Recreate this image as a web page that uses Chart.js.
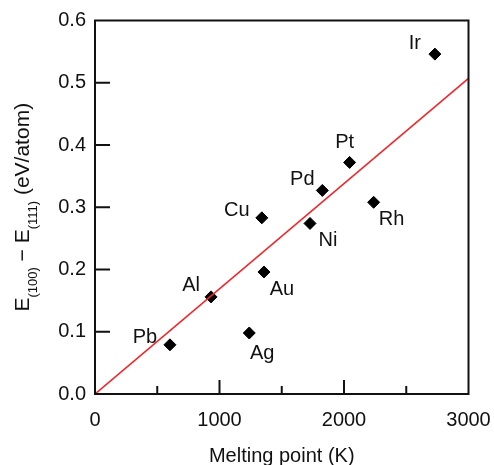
<!DOCTYPE html>
<html lang="en">
<head>
    <meta charset="UTF-8">
    <title>Surface energy vs melting point</title>
    <script src="https://cdn.jsdelivr.net/npm/chart.js@4.4.1/dist/chart.umd.min.js"></script>
    <style>
        html, body { margin: 0; padding: 0; background: #fff; }
        #wrap { width: 494px; height: 465px; }
    </style>
</head>
<body>
<div id="wrap"><canvas id="chart"></canvas></div>
<script>
    // 원소 이름과 값
    var metals = ['Ir', 'Pt', 'Pd', 'Rh', 'Cu', 'Ni', 'Au', 'Ag', 'Al', 'Pb'];
    var meltingPoints = [2730, 2045, 1826, 2238, 1340, 1727, 1357, 1239, 932, 602];
    var energyDiffs = [0.546, 0.372, 0.327, 0.308, 0.283, 0.274, 0.196, 0.098, 0.156, 0.079];

    // 라벨 위치 (점 기준)
    var labelSide = ['nw', 'n', 'nw', 'se', 'w', 'se', 'se', 's', 'nw', 'w'];

    // 빨간 직선 (원점 통과)
    var fitX = [0, 3000];
    var fitY = [0, 0.507];

    var xTicks = [0, 1000, 2000, 3000];
    var xMinorTicks = [500, 1500, 2500];
    var yTicks = [0, 0.1, 0.2, 0.3, 0.4, 0.5, 0.6];

    var FONT = '"Liberation Sans", Arial, Helvetica, sans-serif';
    var INK = '#111';

    var offsets = {
        nw: [-20, -11], n: [-5, -20], se: [18, 17], w: [-25, -7], s: [13, 20]
    };

    var points = meltingPoints.map(function(x, i) {
        return { x: x, y: energyDiffs[i] };
    });
    var fitLine = fitX.map(function(x, i) {
        return { x: x, y: fitY[i] };
    });

    // 프레임, 안쪽 눈금, 축 제목, 라벨
    var decorPlugin = {
        id: 'decor',
        afterDatasetsDraw: function(chart) {
            var ctx = chart.ctx;
            var a = chart.chartArea;
            var xs = chart.scales.x;
            var ys = chart.scales.y;
            ctx.save();

            ctx.strokeStyle = INK;
            ctx.lineWidth = 2;
            ctx.beginPath();
            xTicks.forEach(function(v) {
                if (v === 0 || v === 3000) return;
                var px = xs.getPixelForValue(v);
                ctx.moveTo(px, a.bottom);
                ctx.lineTo(px, a.bottom - 14);
            });
            xMinorTicks.forEach(function(v) {
                var px = xs.getPixelForValue(v);
                ctx.moveTo(px, a.bottom);
                ctx.lineTo(px, a.bottom - 8);
            });
            yTicks.forEach(function(v) {
                if (v === 0 || v === 0.6) return;
                var py = ys.getPixelForValue(v);
                ctx.moveTo(a.left, py);
                ctx.lineTo(a.left + 15, py);
            });
            ctx.stroke();
            ctx.strokeRect(a.left, a.top, a.right - a.left, a.bottom - a.top);

            // 점 라벨
            var meta = chart.getDatasetMeta(1);
            ctx.fillStyle = INK;
            ctx.font = '20px ' + FONT;
            ctx.textAlign = 'center';
            ctx.textBaseline = 'middle';
            meta.data.forEach(function(el, i) {
                var off = offsets[labelSide[i]];
                ctx.fillText(metals[i], el.x + off[0], el.y + off[1]);
            });

            // x 축 제목
            ctx.textBaseline = 'alphabetic';
            ctx.fillText('Melting point (K)', (a.left + a.right) / 2, 462);

            // y 축 제목 (아래첨자 포함)
            var parts = [
                ['E', false], ['(100)', true], [' \u2212 E', false], ['(111)', true], [' (eV/atom)', false]
            ];
            var mainFont = '21px ' + FONT;
            var subFont = '13px ' + FONT;
            var total = 0;
            parts.forEach(function(p) {
                ctx.font = p[1] ? subFont : mainFont;
                total += ctx.measureText(p[0]).width;
            });
            ctx.translate(29, (a.top + a.bottom) / 2);
            ctx.rotate(-Math.PI / 2);
            ctx.textAlign = 'left';
            var cx = -total / 2;
            parts.forEach(function(p) {
                ctx.font = p[1] ? subFont : mainFont;
                ctx.fillText(p[0], cx, p[1] ? 8 : 0);
                cx += ctx.measureText(p[0]).width;
            });
            ctx.restore();
        }
    };

    var ctx = document.getElementById('chart').getContext('2d');
    new Chart(ctx, {
        type: 'scatter',
        data: {
            datasets: [{
                type: 'line',
                label: 'fit',
                data: fitLine,
                borderColor: '#f0262a',
                borderWidth: 1.6,
                pointRadius: 0,
                fill: false
            }, {
                label: 'metals',
                data: points,
                pointStyle: 'rectRot',
                pointRadius: 6,
                pointBackgroundColor: '#000',
                pointBorderColor: '#000',
                pointBorderWidth: 1
            }]
        },
        options: {
            responsive: true,
            maintainAspectRatio: false,
            animation: false,
            devicePixelRatio: 1,
            layout: { padding: { left: 0, right: 25.5, top: 20.5, bottom: 0 } },
            plugins: {
                legend: { display: false },
                tooltip: { enabled: false }
            },
            scales: {
                x: {
                    type: 'linear',
                    min: 0,
                    max: 3000,
                    afterFit: function(scale) {
                        scale.height = 71;
                        scale.paddingLeft = 0;
                        scale.paddingRight = 0;
                    },
                    afterBuildTicks: function(scale) {
                        scale.ticks = xTicks.map(function(v) { return { value: v }; });
                    },
                    grid: { display: false, drawTicks: false },
                    border: { display: false },
                    ticks: {
                        color: INK,
                        padding: 14,
                        maxRotation: 0,
                        font: { family: FONT, size: 20 },
                        callback: function(v) { return String(v); }
                    }
                },
                y: {
                    type: 'linear',
                    min: 0,
                    max: 0.6,
                    afterFit: function(scale) {
                        scale.width = 95;
                        scale.paddingTop = 0;
                        scale.paddingBottom = 0;
                    },
                    afterBuildTicks: function(scale) {
                        scale.ticks = yTicks.map(function(v) { return { value: v }; });
                    },
                    grid: { display: false, drawTicks: false },
                    border: { display: false },
                    ticks: {
                        color: INK,
                        padding: 9,
                        font: { family: FONT, size: 20 },
                        callback: function(v) { return Number(v).toFixed(1); }
                    }
                }
            }
        },
        plugins: [decorPlugin]
    });
</script>
</body>
</html>
